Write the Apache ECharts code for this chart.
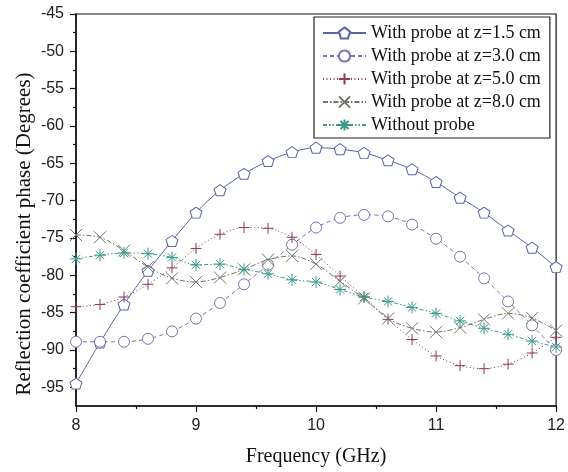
<!DOCTYPE html>
<html>
<head>
<meta charset="utf-8">
<script src="https://cdn.jsdelivr.net/npm/echarts@6/dist/echarts.min.js"></script>
<style>html,body{margin:0;padding:0;background:#fff;}#chart{width:568px;height:472px;}</style>
</head>
<body>
<div id="chart"></div>
<script>
var freq = [8.0, 8.2, 8.4, 8.6, 8.8, 9.0, 9.2, 9.4, 9.6, 9.8, 10.0, 10.2, 10.4, 10.6, 10.8, 11.0, 11.2, 11.4, 11.6, 11.8, 12.0];
var probe15 = [-94.5, -89.0, -83.9, -79.4, -75.4, -71.6, -68.6, -66.4, -64.7, -63.5, -62.9, -63.1, -63.6, -64.6, -65.8, -67.5, -69.6, -71.6, -74.0, -76.3, -78.9];
var probe30 = [-88.9, -88.9, -88.9, -88.5, -87.5, -85.8, -83.7, -81.2, -78.6, -75.9, -73.6, -72.3, -71.9, -72.1, -73.2, -75.1, -77.5, -80.4, -83.5, -86.7, -90.0];
var probe50 = [-84.2, -83.9, -82.9, -81.2, -79.0, -76.4, -74.5, -73.6, -73.7, -74.9, -77.2, -80.1, -82.9, -85.9, -88.6, -90.8, -92.1, -92.5, -91.9, -90.4, -88.3];
var probe80 = [-74.6, -74.9, -76.7, -78.9, -80.4, -80.9, -80.3, -79.2, -77.9, -77.4, -78.5, -80.8, -83.1, -85.8, -87.1, -87.6, -87.0, -85.9, -85.1, -85.7, -87.4];
var noProbe = [-77.8, -77.3, -77.0, -77.1, -77.6, -78.6, -78.5, -79.2, -79.8, -80.6, -80.9, -81.9, -82.9, -83.5, -84.3, -85.1, -86.1, -87.1, -87.9, -88.8, -89.6];
var seriesNames = ['With probe at z=1.5 cm', 'With probe at z=3.0 cm', 'With probe at z=5.0 cm', 'With probe at z=8.0 cm', 'Without probe'];
var yMajor = [-95, -90, -85, -80, -75, -70, -65, -60, -55, -50, -45];
var yMinor = [-92.5, -87.5, -82.5, -77.5, -72.5, -67.5, -62.5, -57.5, -52.5, -47.5];
var xMajor = [8, 9, 10, 11, 12];
var xMinor = [8.5, 9.5, 10.5, 11.5];
var xTitle = 'Frequency (GHz)';
var yTitle = 'Reflection coefficient phase (Degrees)';

function pairs(vals) { return freq.map(function (f, i) { return [f, vals[i]]; }); }

var SYM = {
  pentagon: 'path://M5,0L10,3.8L8.1,10L1.9,10L0,3.8Z',
  plus: 'path://M0,5L10,5M5,0L5,10',
  cross: 'path://M0,0L10,10M10,0L0,10',
  star: 'path://M0,5L10,5M5,0L5,10M1.5,1.5L8.5,8.5M8.5,1.5L1.5,8.5'
};

function mk(name, vals, color, symbol, size, dash, fill) {
  return {
    name: name, type: 'line', data: pairs(vals), smooth: 0.3,
    symbol: symbol, symbolSize: size, showSymbol: true,
    lineStyle: { color: color, width: 1, type: dash },
    itemStyle: { color: fill, borderColor: color, borderWidth: 1 },
    emphasis: { disabled: true },
    animation: false, z: 3
  };
}

var chart = echarts.init(document.getElementById('chart'), null, { renderer: 'canvas' });
var axisFont = { fontFamily: 'Liberation Sans', fontSize: 16, color: '#222' };
var nameFont = { fontFamily: 'Liberation Serif', fontSize: 20, color: '#111' };

chart.setOption({
  animation: false,
  backgroundColor: '#fff',
  grid: { left: 76, right: 8, top: 14, bottom: 66, show: true, borderColor: '#111', borderWidth: 1.2, backgroundColor: 'transparent' },
  legend: {
    orient: 'vertical', left: 314, top: 17,
    padding: [7, 9, 4, 8], itemGap: 5, itemWidth: 43, itemHeight: 14,
    borderColor: '#222', borderWidth: 1.2, backgroundColor: '#fff',
    textStyle: { fontFamily: 'Liberation Serif', fontSize: 18, color: '#111' },
    data: seriesNames
  },
  graphic: [{
    type: 'text', x: 24, y: 234, rotation: Math.PI / 2,
    style: { text: yTitle, fontFamily: 'Liberation Serif', fontSize: 21, fill: '#111', align: 'center', verticalAlign: 'middle' }
  }],
  xAxis: [{
    type: 'value', min: 8, max: 12, interval: 1,
    name: xTitle, nameLocation: 'middle', nameGap: 41, nameTextStyle: nameFont,
    axisLine: { onZero: false, lineStyle: { color: '#111', width: 1.5 } },
    axisTick: { show: true, inside: false, length: 6, lineStyle: { color: '#111', width: 1.2 }, customValues: xMajor },
    axisLabel: Object.assign({ margin: 12, customValues: xMajor }, axisFont),
    splitLine: { show: false }
  }, {
    type: 'value', min: 8, max: 12, position: 'bottom', gridIndex: 0,
    axisLine: { show: false },
    axisTick: { show: true, inside: false, length: 3, lineStyle: { color: '#111', width: 1.2 }, customValues: xMinor },
    axisLabel: { show: false }, splitLine: { show: false }
  }],
  yAxis: [{
    type: 'value', min: -97.5, max: -45,
    axisLine: { onZero: false, lineStyle: { color: '#111', width: 1.5 } },
    axisTick: { show: true, inside: false, length: 6, lineStyle: { color: '#111', width: 1.2 }, customValues: yMajor },
    axisLabel: Object.assign({ margin: 12, customValues: yMajor }, axisFont),
    splitLine: { show: false }
  }, {
    type: 'value', min: -97.5, max: -45, position: 'left', gridIndex: 0,
    axisLine: { show: false },
    axisTick: { show: true, inside: false, length: 3, lineStyle: { color: '#111', width: 1.2 }, customValues: yMinor },
    axisLabel: { show: false }, splitLine: { show: false }
  }],
  series: [
    mk(seriesNames[0], probe15, '#5a66a6', SYM.pentagon, [12, 11], 'solid', '#fff'),
    mk(seriesNames[1], probe30, '#7c72b2', 'circle', 11, [4, 3], '#fff'),
    mk(seriesNames[2], probe50, '#8a3d55', SYM.plus, 11, [1, 2.5], 'none'),
    mk(seriesNames[3], probe80, '#6f7668', SYM.cross, 12, [5, 2, 1.5, 2], 'none'),
    mk(seriesNames[4], noProbe, '#3c9a8c', SYM.star, 12, [4, 2, 1.5, 2, 1.5, 2], 'none')
  ]
});
</script>
</body>
</html>
